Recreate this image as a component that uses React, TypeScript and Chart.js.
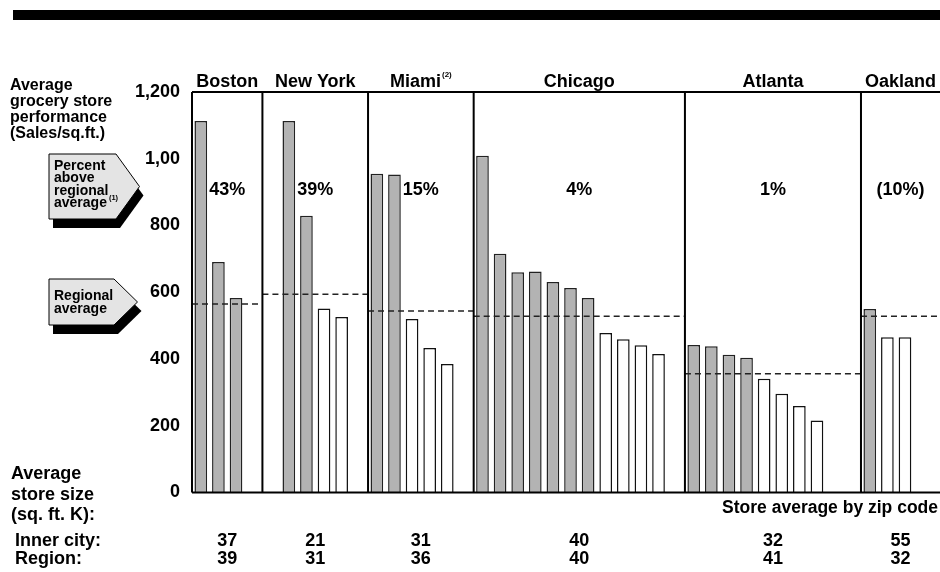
import React, { useEffect, useRef } from 'react';
import { Chart, registerables } from 'chart.js';

Chart.register(...registerables);

// cities shown left to right
const cities = ['Boston', 'New York', 'Miami', 'Chicago', 'Atlanta', 'Oakland'];

// sales per sq.ft., inner-city zip codes (grey bars)
const innerCityZips = [
  [1113, 691, 583],
  [1113, 829],
  [955, 953],
  [1009, 715, 660, 662, 631, 613, 583],
  [442, 438, 413, 404],
  [550],
];

// sales per sq.ft., other zip codes (white bars)
const otherZips = [
  [],
  [551, 526],
  [520, 433, 385],
  [478, 459, 441, 415],
  [341, 296, 259, 216],
  [465, 465],
];

const regionalAverage = [565, 594, 544, 528, 356, 528];
const percentAbove = ['43%', '39%', '15%', '4%', '1%', '(10%)'];
const innerCitySize = ['37', '21', '31', '40', '32', '55'];
const regionSize = ['39', '31', '36', '40', '41', '32'];

const yTicks = [0, 200, 400, 600, 800, 1000, 1200];
const yTickLabels = ['0', '200', '400', '600', '800', '1,00', '1,200'];

// empty slots before / after each city's bars
const leadSlots = [0, 1, 0, 0, 0, 0];
const trailSlots = [1, 1, 1, 1, 2, 2];

const FONT = '"Liberation Sans", Arial, Helvetica, sans-serif';
const GREY = '#b3b3b3';
const VIEW_W = 940;

// build category slots
const labels: string[] = [];
const innerData: (number | null)[] = [];
const otherData: (number | null)[] = [];
const regionStart: number[] = [];
const regionEnd: number[] = [];

cities.forEach((city, i) => {
  regionStart.push(labels.length);
  const slot = (a: number | null, b: number | null) => {
    labels.push(city + ' ' + labels.length);
    innerData.push(a);
    otherData.push(b);
  };
  for (let k = 0; k < leadSlots[i]; k++) slot(null, null);
  innerCityZips[i].forEach(v => slot(v, null));
  otherZips[i].forEach(v => slot(null, v));
  for (let k = 0; k < trailSlots[i]; k++) slot(null, null);
  regionEnd.push(labels.length);
});

const bold = (size: number) => `bold ${size}px ${FONT}`;

function drawTag(ctx: CanvasRenderingContext2D, l: number, t: number, r: number, tip: number, b: number) {
  const mid = (t + b) / 2;
  const path = (dx: number, dy: number) => {
    ctx.beginPath();
    ctx.moveTo(l + dx, t + dy);
    ctx.lineTo(r + dx, t + dy);
    ctx.lineTo(tip + dx, mid + dy);
    ctx.lineTo(r + dx, b + dy);
    ctx.lineTo(l + dx, b + dy);
    ctx.closePath();
  };
  path(4, 9);
  ctx.fillStyle = '#000';
  ctx.fill();
  path(0, 0);
  ctx.fillStyle = '#e4e4e4';
  ctx.fill();
  ctx.lineWidth = 1;
  ctx.strokeStyle = '#000';
  ctx.stroke();
}

const overlayPlugin = {
  id: 'overlay',
  afterDatasetsDraw(chart: any) {
    const { ctx, chartArea } = chart;
    const { left, top, bottom } = chartArea;
    const right = Math.min(chartArea.right, VIEW_W);
    const x = chart.scales.x;
    const y = chart.scales.y;
    const bound = (idx: number) => x.getPixelForValue(idx - 0.5);
    const regionLeft = (i: number) => (i === 0 ? left : bound(regionStart[i]));
    const regionRight = (i: number) => (i === cities.length - 1 ? right : bound(regionEnd[i]));
    const centre = (i: number) => (regionLeft(i) + regionRight(i)) / 2;

    ctx.save();

    // regional averages
    ctx.setLineDash([6, 4]);
    ctx.lineWidth = 1.5;
    ctx.strokeStyle = '#222';
    cities.forEach((_, i) => {
      const yy = y.getPixelForValue(regionalAverage[i]);
      ctx.beginPath();
      ctx.moveTo(regionLeft(i), yy);
      ctx.lineTo(regionRight(i), yy);
      ctx.stroke();
    });
    ctx.setLineDash([]);

    // frame and dividers
    ctx.lineWidth = 2;
    ctx.strokeStyle = '#000';
    ctx.beginPath();
    ctx.moveTo(left, top);
    ctx.lineTo(right, top);
    ctx.moveTo(left, bottom);
    ctx.lineTo(right, bottom);
    ctx.moveTo(left, top);
    ctx.lineTo(left, bottom);
    for (let i = 1; i < cities.length; i++) {
      const bx = regionLeft(i);
      ctx.moveTo(bx, top);
      ctx.lineTo(bx, bottom);
    }
    ctx.stroke();

    // header bar
    ctx.fillStyle = '#000';
    ctx.fillRect(13, 10, VIEW_W - 13, 10);

    ctx.fillStyle = '#000';
    ctx.textBaseline = 'alphabetic';

    // city names, percentages, store sizes
    cities.forEach((city, i) => {
      const cx = centre(i);
      ctx.font = bold(18);
      ctx.textAlign = 'center';
      if (city === 'Miami') {
        const w = ctx.measureText(city).width;
        ctx.font = bold(8);
        const sw = ctx.measureText('(2)').width + 1;
        const start = cx - (w + sw) / 2;
        ctx.textAlign = 'left';
        ctx.font = bold(18);
        ctx.fillText(city, start, 86.5);
        ctx.font = bold(8);
        ctx.fillText('(2)', start + w + 1, 77);
      } else {
        ctx.fillText(city, cx, 86.5);
      }
      ctx.textAlign = 'center';
      ctx.font = bold(18);
      ctx.fillText(percentAbove[i], cx, 194.5);
      ctx.fillText(innerCitySize[i], cx, 546);
      ctx.fillText(regionSize[i], cx, 563.5);
    });

    ctx.textAlign = 'right';
    ctx.font = bold(17.5);
    ctx.fillText('Store average by zip code', VIEW_W - 2, 513);

    // left annotations
    ctx.textAlign = 'left';
    ctx.font = bold(16);
    ['Average', 'grocery store', 'performance', '(Sales/sq.ft.)'].forEach((t, k) => {
      ctx.fillText(t, 10, 89.5 + k * 16);
    });

    drawTag(ctx, 49, 154, 116, 139.5, 219);
    ctx.fillStyle = '#000';
    ctx.font = bold(14);
    ['Percent', 'above', 'regional', 'average'].forEach((t, k) => {
      ctx.fillText(t, 54, 170 + k * 12.3);
    });
    const aw = ctx.measureText('average').width;
    ctx.font = bold(7.5);
    ctx.fillText('(1)', 54 + aw + 2, 200);

    drawTag(ctx, 49, 279, 114, 137.5, 325);
    ctx.fillStyle = '#000';
    ctx.font = bold(14);
    ctx.fillText('Regional', 54, 299.5);
    ctx.fillText('average', 54, 313);

    ctx.font = bold(18);
    ['Average', 'store size', '(sq. ft. K):'].forEach((t, k) => {
      ctx.fillText(t, 11, 479 + k * 20.5);
    });
    ctx.fillText('Inner city:', 15, 546);
    ctx.fillText('Region:', 15, 563.5);

    ctx.restore();
  },
};

export default function App() {
  const canvasRef = useRef<HTMLCanvasElement>(null);

  useEffect(() => {
    if (!canvasRef.current) return;
    const chart = new Chart(canvasRef.current, {
      type: 'bar',
      data: {
        labels,
        datasets: [
          {
            label: 'Inner city',
            data: innerData,
            backgroundColor: GREY,
            borderColor: '#222',
            borderWidth: 1.5,
            grouped: false,
            barPercentage: 0.72,
            categoryPercentage: 1,
          },
          {
            label: 'Other',
            data: otherData,
            backgroundColor: '#fff',
            borderColor: '#111',
            borderWidth: 1.5,
            grouped: false,
            barPercentage: 0.72,
            categoryPercentage: 1,
          },
        ],
      },
      options: {
        responsive: true,
        maintainAspectRatio: false,
        animation: false,
        layout: { padding: { top: 92, bottom: 79.5, left: 0, right: 0 } },
        plugins: {
          legend: { display: false },
          tooltip: { enabled: false },
        },
        scales: {
          x: { display: false, offset: true },
          y: {
            min: 0,
            max: 1200,
            afterFit: (scale: any) => {
              scale.width = 192;
            },
            grid: { display: false, drawTicks: false },
            border: { display: false },
            ticks: {
              stepSize: 200,
              padding: 12,
              color: '#000',
              font: { family: FONT, size: 18, weight: 'bold' },
              callback: (value: any) => {
                const k = yTicks.indexOf(Number(value));
                return k >= 0 ? yTickLabels[k] : '';
              },
            },
          },
        },
      },
      plugins: [overlayPlugin],
    });
    return () => chart.destroy();
  }, []);

  return (
    <div style={{ position: 'fixed', left: 0, top: 0, width: VIEW_W, height: 572, overflow: 'hidden', background: '#fff' }}>
      <div style={{ position: 'relative', width: 949, height: 572 }}>
        <canvas ref={canvasRef} />
      </div>
    </div>
  );
}
